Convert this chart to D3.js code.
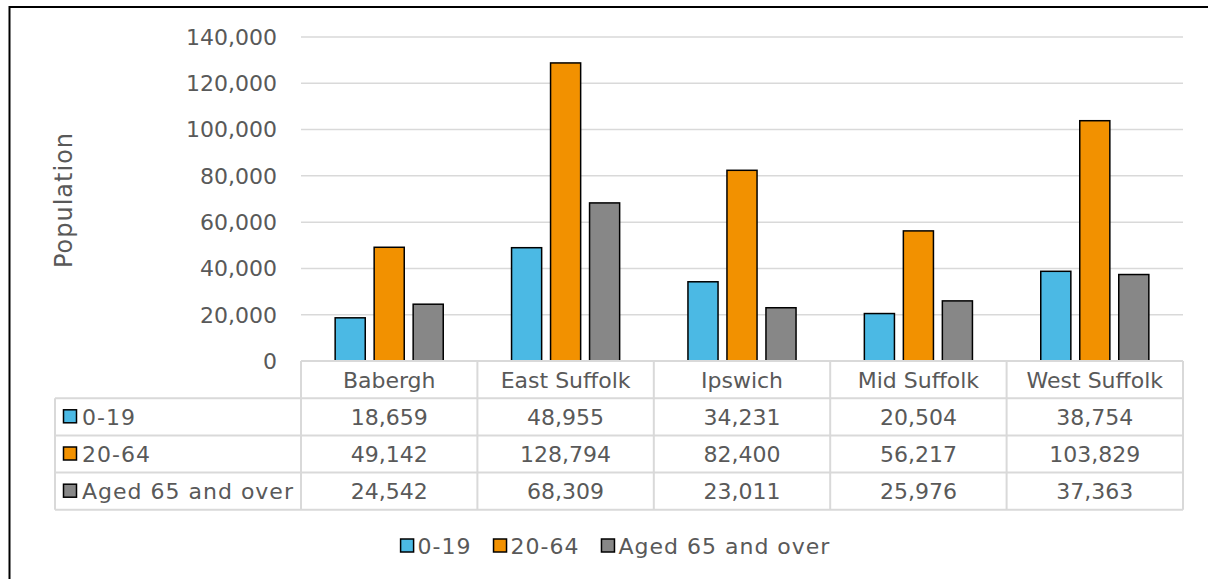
<!DOCTYPE html>
<html>
<head>
<meta charset="utf-8">
<script src="https://cdn.jsdelivr.net/npm/d3@7"></script>
<style>
  body { margin: 0; background: #fff; }
  svg text { font-family: "DejaVu Sans", sans-serif; fill: #595959; }
</style>
</head>
<body>
<svg id="chart" width="1208" height="579"></svg>
<script>
const categories = ["Babergh", "East Suffolk", "Ipswich", "Mid Suffolk", "West Suffolk"];
const seriesNames = ["0-19", "20-64", "Aged 65 and over"];
const ages0to19 = [18659, 48955, 34231, 20504, 38754];
const ages20to64 = [49142, 128794, 82400, 56217, 103829];
const ages65plus = [24542, 68309, 23011, 25976, 37363];
const yTicks = [0, 20000, 40000, 60000, 80000, 100000, 120000, 140000];

const colors = ["#4BB9E4", "#F29100", "#878787"];
const seriesValues = [ages0to19, ages20to64, ages65plus];

const svg = d3.select("#chart");
const fmt = d3.format(",");

// outer frame (runs off right/bottom like the source)
svg.append("rect")
  .attr("x", 9.5).attr("y", 7)
  .attr("width", 1300).attr("height", 700)
  .attr("fill", "none").attr("stroke", "#000").attr("stroke-width", 2);

const plotLeft = 301, plotRight = 1183, plotTop = 37, plotBottom = 361;

const y = d3.scaleLinear().domain([0, 140000]).range([plotBottom, plotTop]);
const x0 = d3.scaleBand().domain(categories).range([plotLeft, plotRight]);
const x1 = d3.scaleBand().domain(seriesNames)
  .range([-58.5, 58.5]).paddingInner(0.19).paddingOuter(0.095);

// gridlines
svg.append("g")
  .selectAll("line")
  .data(yTicks)
  .join("line")
  .attr("x1", plotLeft).attr("x2", plotRight)
  .attr("y1", d => y(d)).attr("y2", d => y(d))
  .attr("stroke", "#D9D9D9").attr("stroke-width", 1.5);

// y tick labels
svg.append("g")
  .selectAll("text")
  .data(yTicks)
  .join("text")
  .attr("x", 277).attr("y", d => y(d))
  .attr("dy", "0.36em")
  .attr("text-anchor", "end")
  .style("font-size", "22px")
  .text(d => fmt(d));

// axis title
svg.append("text")
  .attr("transform", "translate(72,200) rotate(-90)")
  .attr("text-anchor", "middle")
  .style("font-size", "24px")
  .style("letter-spacing", "1px")
  .text("Population");

// bars
const rows = categories.map((c, i) => ({
  category: c,
  values: seriesNames.map((s, k) => ({ series: s, value: seriesValues[k][i], color: colors[k] }))
}));

svg.append("g")
  .selectAll("g")
  .data(rows)
  .join("g")
  .attr("transform", d => `translate(${x0(d.category) + x0.bandwidth() / 2},0)`)
  .selectAll("rect")
  .data(d => d.values)
  .join("rect")
  .attr("x", d => x1(d.series) + 0.75)
  .attr("width", x1.bandwidth() - 1.5)
  .attr("y", d => y(d.value))
  .attr("height", d => y(0) - y(d.value))
  .attr("fill", d => d.color)
  .attr("stroke", "#000")
  .attr("stroke-width", 1.5);

// data table
const rowH = 37.2;
const tableLeft = 55;
const table = svg.append("g");
const lineColor = "#D9D9D9";

// horizontal lines
d3.range(5).forEach(r => {
  const yy = plotBottom + r * rowH;
  table.append("line")
    .attr("x1", r === 0 ? plotLeft : tableLeft).attr("x2", plotRight)
    .attr("y1", yy).attr("y2", yy)
    .attr("stroke", lineColor).attr("stroke-width", 2);
});
// vertical lines
table.append("line")
  .attr("x1", tableLeft).attr("x2", tableLeft)
  .attr("y1", plotBottom + rowH).attr("y2", plotBottom + 4 * rowH)
  .attr("stroke", lineColor).attr("stroke-width", 2);
categories.concat(["end"]).forEach((c, i) => {
  const xx = plotLeft + i * x0.step();
  table.append("line")
    .attr("x1", xx).attr("x2", xx)
    .attr("y1", plotBottom).attr("y2", plotBottom + 4 * rowH)
    .attr("stroke", lineColor).attr("stroke-width", 2);
});

// header row
table.selectAll(".cat")
  .data(categories)
  .join("text")
  .attr("class", "cat")
  .attr("x", d => x0(d) + x0.bandwidth() / 2)
  .attr("y", plotBottom + rowH / 2)
  .attr("dy", "0.36em")
  .attr("text-anchor", "middle")
  .style("font-size", "22px")
  .text(d => d);

seriesNames.forEach((s, k) => {
  const cy = plotBottom + (k + 1.5) * rowH;
  table.append("rect")
    .attr("x", 63.5).attr("y", cy - 7)
    .attr("width", 13).attr("height", 13)
    .attr("fill", colors[k]).attr("stroke", "#000").attr("stroke-width", 1.5);
  table.append("text")
    .attr("x", 82).attr("y", cy).attr("dy", "0.36em")
    .style("font-size", "22px")
    .style("letter-spacing", "1px")
    .text(s);
  table.selectAll(".v" + k)
    .data(seriesValues[k])
    .join("text")
    .attr("class", "v" + k)
    .attr("x", (d, i) => x0(categories[i]) + x0.bandwidth() / 2)
    .attr("y", cy).attr("dy", "0.36em")
    .attr("text-anchor", "middle")
    .style("font-size", "22px")
    .text(d => fmt(d));
});

// legend
const legend = svg.append("g");
const legendY = 546;
const legendGap = 21;
let lx = 0;
seriesNames.forEach((s, k) => {
  const g = legend.append("g");
  g.append("rect")
    .attr("x", 1).attr("y", legendY - 7)
    .attr("width", 13).attr("height", 13)
    .attr("fill", colors[k]).attr("stroke", "#000").attr("stroke-width", 1.5);
  const t = g.append("text")
    .attr("x", 18).attr("y", legendY).attr("dy", "0.36em")
    .style("font-size", "22px")
    .style("letter-spacing", "1px")
    .text(s);
  const w = 18 + t.node().getComputedTextLength();
  g.attr("transform", `translate(${lx},0)`);
  lx += w + legendGap;
});
const legendW = lx - legendGap;
legend.attr("transform", `translate(${615 - legendW / 2},0)`);
</script>
</body>
</html>
